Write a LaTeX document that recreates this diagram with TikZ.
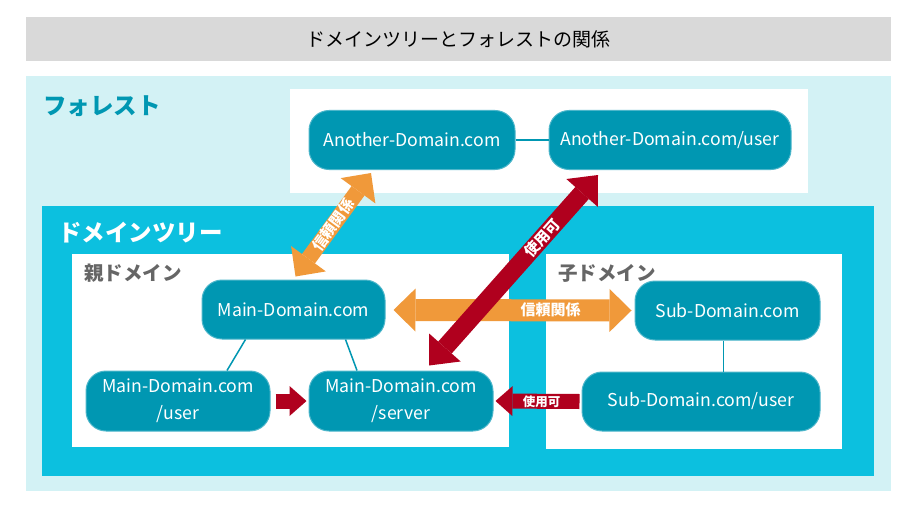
\documentclass[tikz,border=0pt]{standalone}
\usepackage{fontspec}
\setmainfont{Noto Sans CJK JP}
\usepackage{xcolor}
\usepackage{tikz}
\usetikzlibrary{arrows.meta,calc}

\definecolor{titlegray}{HTML}{D9D9D9}
\definecolor{forestbg}{HTML}{D3F2F5}
\definecolor{treebg}{HTML}{0CC0DF}
\definecolor{domainteal}{HTML}{0097B2}
\definecolor{domainline}{HTML}{4DB6CA}
\definecolor{trustorange}{HTML}{F0993A}
\definecolor{usered}{HTML}{B0001E}
\definecolor{labelgray}{HTML}{666666}

\begin{document}
\begin{tikzpicture}[x=1pt, y=-1pt,
  domainbox/.style={draw=domainline, line width=1pt, fill=domainteal, text=white,
    rounded corners=20pt, minimum height=59pt, inner sep=0pt, align=center,
    font=\fontsize{17.7}{27}\selectfont},
  link/.style={draw=domainteal, line width=1.5pt},
  trustarrow/.style={trustorange, line width=#1,
    {Triangle[length=22pt,width=43pt,line width=0pt]}-{Triangle[length=22pt,width=43pt,line width=0pt]}},
  usearrow/.style={usered, line width=#1,
    {Triangle[length=24pt,width=42pt,line width=0pt]}-{Triangle[length=24pt,width=42pt,line width=0pt]}},
  smalluse/.style={usered, line width=15pt, -{Triangle[length=17pt,width=30pt,line width=0pt]}},
  arrowtext/.style={text=white, inner sep=0pt, font=\bfseries\fontsize{#1}{#1}\selectfont},
  arealabel/.style={anchor=west, inner sep=0pt, font=\bfseries\fontsize{23.5}{23.5}\selectfont}]

\useasboundingbox (0, 0) rectangle (904, 508);
\fill [white] (0, 0) rectangle (904, 508);

\node [fill=titlegray, minimum width=865pt, minimum height=44pt, inner sep=0pt,
  font=\fontsize{19}{19}\selectfont] (title) at (458.5, 39) {ドメインツリーとフォレストの関係};

\fill [forestbg] (26, 76) rectangle (891, 491);
\fill [white]    (290, 89) rectangle (808, 193);
\node [arealabel, text=domainteal] (forestlabel) at (43, 106) {フォレスト};

\fill [treebg] (42, 206) rectangle (874, 476);
\node [arealabel, text=white] (treelabel) at (58, 233) {ドメインツリー};

\fill [white] (72, 254) rectangle (509, 447);
\fill [white] (546, 254) rectangle (842, 449);
\node [arealabel, text=labelgray, font=\bfseries\fontsize{19.5}{19.5}\selectfont] (parentlabel) at (84, 273) {親ドメイン};
\node [arealabel, text=labelgray, font=\bfseries\fontsize{19.5}{19.5}\selectfont] (childlabel) at (558, 273) {子ドメイン};

\node [domainbox, minimum width=206pt] (another)     at (412, 140)   {Another-Domain.com};
\node [domainbox, minimum width=242pt] (anotheruser) at (670, 140)   {Another-Domain.com/user};
\node [domainbox, minimum width=183pt] (main)        at (293.5, 309.5) {Main-Domain.com};
\node [domainbox, minimum width=184pt, minimum height=60pt] (mainuser)   at (178, 401) {Main-Domain.com\\/user};
\node [domainbox, minimum width=184pt, minimum height=60pt] (mainserver) at (401, 401) {Main-Domain.com\\/server};
\node [domainbox, minimum width=185pt] (sub)         at (727.5, 310.5) {Sub-Domain.com};
\node [domainbox, minimum width=238pt] (subuser)     at (701, 401.5) {Sub-Domain.com/user};

\draw [link] (another) -- (anotheruser);
\draw [link] ($(main.south)+(-48, 0)$) -- ($(mainuser.north)+(49, 0)$);
\draw [link] ($(main.south)+(52, 0)$) -- ($(mainserver.north)+(-44, 0)$);
\draw [link] ($(sub.south)+(-4, 0)$) -- ($(sub.south |- subuser.north)+(-4, 0)$);

\draw [trustarrow=16pt] ($(main.north)+(2, -3)$) -- node [arrowtext=15, sloped] {信頼関係} ($(another.south)+(-41, 3)$);
\draw [trustarrow=22pt] ($(main.east)+(8, 0.5)$) -- node [arrowtext=15, pos=0.66] {信頼関係} ($(sub.west)+(-3, 0)$);
\draw [usearrow=18pt] ($(mainserver.north)+(28, -5)$) -- node [arrowtext=15, sloped, pos=0.67] {使用可} ($(anotheruser.south)+(-72, 5)$);

\draw [smalluse] ($(mainuser.east)+(5, 0)$) -- ($(mainserver.west)+(-2, 0)$);
\draw [smalluse] ($(subuser.west)+(-2, 0)$) -- node [arrowtext=12.5, pos=0.45] {使用可} ($(mainserver.east)+(2, 0)$);
\end{tikzpicture}
\end{document}
